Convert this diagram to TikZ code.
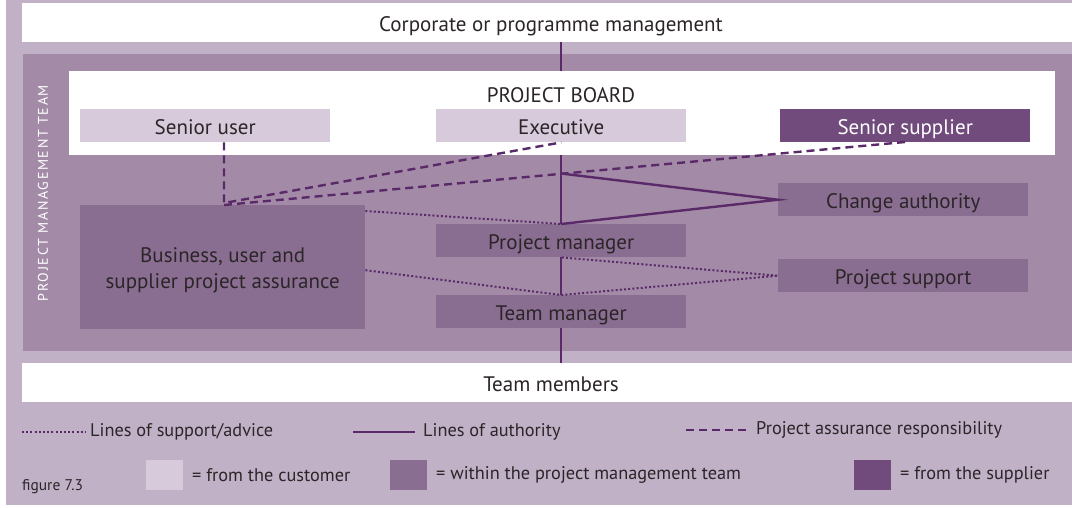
\documentclass[tikz,border=0pt]{standalone}
\usepackage{fontspec}
\setmainfont{PT Sans}
\begin{document}
\begin{tikzpicture}[x=1pt,y=-1pt,
  txt/.style={text=txtgray,font=\fontsize{21}{23}\selectfont,text height=19.5pt,text depth=2.3pt},
  box/.style={txt,minimum width=250pt,minimum height=33pt,inner sep=0pt,anchor=north west},
  custbox/.style={box,fill=custc},
  teambox/.style={box,fill=teamc},
  suppbox/.style={box,fill=suppc,text=white},
  auth/.style={draw=linec,line width=2.4pt},
  assur/.style={draw=linec,line width=2.4pt,dash pattern=on 8pt off 5pt},
  supp/.style={draw=linec,line width=2pt,dash pattern=on 2pt off 2.2pt},
  legtxt/.style={text=txtgray,font=\fontsize{18.3}{20}\selectfont,anchor=west,inner sep=0pt}]
\definecolor{txtgray}{HTML}{2B2528}
\definecolor{outerc}{HTML}{C1B1C7}
\definecolor{regionc}{HTML}{A38BA8}
\definecolor{custc}{HTML}{D6CADB}
\definecolor{teamc}{HTML}{8A6E92}
\definecolor{suppc}{HTML}{704B7C}
\definecolor{linec}{HTML}{5A2A68}
\useasboundingbox (0,0) rectangle (1072,507);
\fill[white] (0,0) rectangle (1072,507);
\fill[outerc] (6,0) rectangle (1072,505);
% top box
\fill[white] (22,3) rectangle (1072,42);
\node[txt,inner sep=0pt] (corp) at (551,22.5) {Corporate or programme management};
\coordinate (corpb) at (561,42);
% team region
\fill[regionc] (23,54) rectangle (1072,351);
\node[rotate=90,text=white,font=\fontsize{14}{15}\selectfont\addfontfeature{LetterSpace=12}] (pmt) at (43,193) {PROJECT MANAGEMENT TEAM};
% team members
\fill[white] (22,363) rectangle (1072,402);
\node[txt,inner sep=0pt] (tm) at (551,382.5) {Team members};
\coordinate (tmt) at (561,363);
% vertical authority line
\draw[auth] (corpb) -- (tmt);
% board
\fill[white] (69,71) rectangle (1055,155);
\node[txt,inner sep=0pt] (pb) at (561,94) {PROJECT BOARD};
\node[custbox] (su) at (80,109) {Senior user};
\node[custbox] (ex) at (436,109) {Executive};
\node[suppbox] (ss) at (780,109) {Senior supplier};
\node[teambox] (ca) at (778,183) {Change authority};
\node[teambox] (ps) at (778,259) {Project support};
\node[teambox] (pm) at (436,224) {Project manager};
\node[teambox] (tmg) at (436,295) {Team manager};
\node[teambox,minimum width=285pt,minimum height=124pt,align=center,
  font=\fontsize{21}{25.5}\selectfont,text height=71.5pt,text depth=29.5pt] (ba) at (80,205) {Business, user and\\supplier project assurance};
% connection points
\coordinate (j1) at (224,203);
\coordinate (j2) at (224,205);
\coordinate (k) at (561,173.5);
% assurance lines
\draw[assur] (su.south -| j1) -- (j1) -- (ex.south);
\draw[assur] (j2) -- (905,142);
% authority lines to change authority
\draw[auth,line join=miter] (k) -- (ca.west) -- (pm.north);
% support lines
\draw[supp] (ba.north east) ++(0,6) -- (pm.north);
\draw[supp] (ba.east) ++(0,3) -- (tmg.north) -- (ps.west) -- (pm.south);
% legend
\coordinate (l1a) at (22,432); \coordinate (l1b) at (86,432);
\draw[supp,line width=1.6pt] (l1a) -- (l1b);
\node[legtxt] (l1) at (90,432) {Lines of support/advice};
\coordinate (l2a) at (353,432); \coordinate (l2b) at (415,432);
\draw[auth,line width=2pt] (l2a) -- (l2b);
\node[legtxt] (l2) at (423,432) {Lines of authority};
\coordinate (l3a) at (686,430); \coordinate (l3b) at (749,430);
\draw[draw=linec,line width=2pt,dash pattern=on 8pt off 5pt] (l3a) -- (l3b);
\node[legtxt] (l3) at (756,430) {Project assurance responsibility};
\node[text=txtgray,font=\fontsize{15.5}{16}\selectfont,anchor=west,inner sep=0pt] (fig) at (22,487) {figure 7.3};
\node[fill=custc,minimum width=37pt,minimum height=30pt,inner sep=0pt] (s1) at (164.5,475) {};
\node[legtxt] (t1) at (192,475) {= from the customer};
\node[fill=teamc,minimum width=37pt,minimum height=30pt,inner sep=0pt] (s2) at (408.5,475) {};
\node[legtxt] (t2) at (436,475) {= within the project management team};
\node[fill=suppc,minimum width=37pt,minimum height=30pt,inner sep=0pt] (s3) at (872.5,475) {};
\node[legtxt] (t3) at (900,475) {= from the supplier};
\end{tikzpicture}
\end{document}
